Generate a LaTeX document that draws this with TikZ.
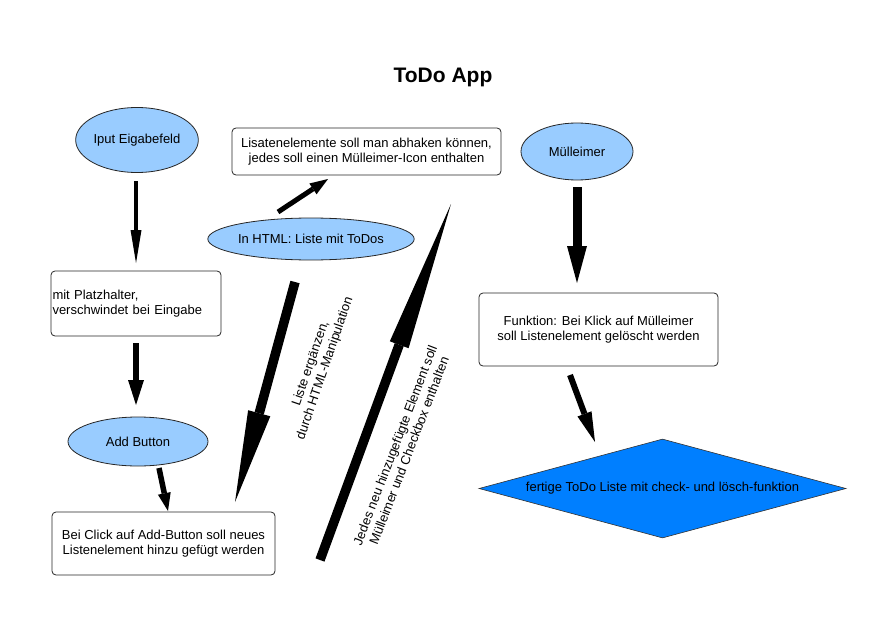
\documentclass[tikz,border=0pt]{standalone}
\usepackage{fontspec}
\setmainfont{Liberation Sans}
\usetikzlibrary{arrows.meta,shapes.geometric}
\tikzset{
  every node/.style={font=\fontsize{13}{15}\selectfont},
  ellnode/.style={
    ellipse, draw=black!85, fill=ellblue, line width=0.8pt, inner sep=0pt,
  },
  boxnode/.style={
    rectangle, rounded corners=4pt, draw=black!85, fill=white,
    line width=0.8pt, align=center, inner sep=0pt,
  },
  fatarrow/.style n args={3}{
    draw=black, line width=#1,
    -{Triangle[length=#2, width=#3, line width=0pt]},
  },
}

\begin{document}
\begin{tikzpicture}[x=1pt, y=-1pt]
% Defining colors
\definecolor{ellblue}{HTML}{99CCFF}
\definecolor{diamblue}{HTML}{007FFF}

\useasboundingbox (0,0) rectangle (895,626);

% =:=:=:=:=:=:=:=:=:=:=:=:=:=:=:=:=:=:=
% Title
% =:=:=:=:=:=:=:=:=:=:=:=:=:=:=:=:=:=:=
\node[font=\fontsize{21}{25}\selectfont\bfseries] (title) at (443,77)
    {ToDo App};

% =:=:=:=:=:=:=:=:=:=:=:=:=:=:=:=:=:=:=
% Left column: input and add button
% =:=:=:=:=:=:=:=:=:=:=:=:=:=:=:=:=:=:=
\node[ellnode, minimum width=114pt, minimum height=65pt] (iput)
    at (137,140) {Iput Eigabefeld};

\node[boxnode, minimum height=65pt, text width=167pt, inner xsep=1.5pt,
      align=left] (platz)
    at (136,303.5) {mit Platzhalter,\\verschwindet bei Eingabe};

\node[ellnode, minimum width=140pt, minimum height=49pt] (add)
    at (138,441.5) {Add Button};

\node[boxnode, minimum width=223pt, minimum height=63pt] (click)
    at (163.5,543.5)
    {Bei Click auf Add-Button soll neues\\Listenelement hinzu gefügt werden};

% =:=:=:=:=:=:=:=:=:=:=:=:=:=:=:=:=:=:=
% Middle: HTML list
% =:=:=:=:=:=:=:=:=:=:=:=:=:=:=:=:=:=:=
\node[boxnode, minimum width=269pt, minimum height=47pt] (lisa)
    at (366.5,151.5)
    {Lisatenelemente soll man abhaken können,\\jedes soll einen Mülleimer-Icon enthalten};

\node[ellnode, minimum width=168pt, minimum height=42pt] (html)
    at (311,239) {In HTML: Liste mit ToDos};

% =:=:=:=:=:=:=:=:=:=:=:=:=:=:=:=:=:=:=
% Right column: Muelleimer
% =:=:=:=:=:=:=:=:=:=:=:=:=:=:=:=:=:=:=
\node[ellnode, minimum width=112pt, minimum height=57pt] (muell)
    at (577,151.5) {Mülleimer};

\node[boxnode, minimum width=239pt, minimum height=73pt] (funk)
    at (598.5,329.5)
    {Funktion: Bei Klick auf Mülleimer\\soll Listenelement gelöscht werden};

\node[diamond, draw=black!80, fill=diamblue, line width=0.6pt,
      aspect=3.7, minimum width=367pt, minimum height=99pt,
      inner sep=0pt] (done)
    at (662.5,488.5) {fertige ToDo Liste mit check- und lösch-funktion};

% =:=:=:=:=:=:=:=:=:=:=:=:=:=:=:=:=:=:=
% Arrow end points
% =:=:=:=:=:=:=:=:=:=:=:=:=:=:=:=:=:=:=
\coordinate (iputS)  at (136,181);
\coordinate (platzN) at (136,263);
\coordinate (platzS) at (136,343);
\coordinate (addN)   at (136,405);
\coordinate (addS)   at (159,468);
\coordinate (clickN) at (168,511);
\coordinate (htmlN)  at (278,212);
\coordinate (lisaS)  at (328,179);
\coordinate (htmlS)  at (295,282);
\coordinate (clickE) at (235,502);
\coordinate (jedesS) at (320,560);
\coordinate (jedesN) at (451,204);
\coordinate (muellS) at (577,187);
\coordinate (funkN)  at (577,283);
\coordinate (funkS)  at (570,375);
\coordinate (doneN)  at (595,442);

% =:=:=:=:=:=:=:=:=:=:=:=:=:=:=:=:=:=:=
% Arrows
% =:=:=:=:=:=:=:=:=:=:=:=:=:=:=:=:=:=:=
\draw[fatarrow={4pt}{33pt}{11pt}] (iputS) -- (platzN);
\draw[fatarrow={5.5pt}{25pt}{16pt}] (platzS) -- (addN);
\draw[fatarrow={5.5pt}{18pt}{13pt}] (addS) -- (clickN);
\draw[fatarrow={5pt}{18pt}{13pt}] (htmlN) -- (lisaS);

% Liste ergaenzen
\draw[fatarrow={9.5pt}{92pt}{23pt}] (htmlS) -- (clickE);
\node[rotate=71, align=center] (lblliste) at (318,366)
    {Liste ergänzen,\\durch HTML-Manipulation};

% Jedes neu hinzugefuegte Element
\draw[fatarrow={9.5pt}{150pt}{20pt}] (jedesS) -- (jedesN);
\node[rotate=69, align=center] (lbljedes) at (402,448)
    {Jedes neu hinzugefügte Element soll\\Mülleimer und Checkbox enthalten};

\draw[fatarrow={9pt}{37pt}{20pt}] (muellS) -- (funkN);
\draw[fatarrow={6pt}{30pt}{15pt}] (funkS) -- (doneN);

\end{tikzpicture}
\end{document}
